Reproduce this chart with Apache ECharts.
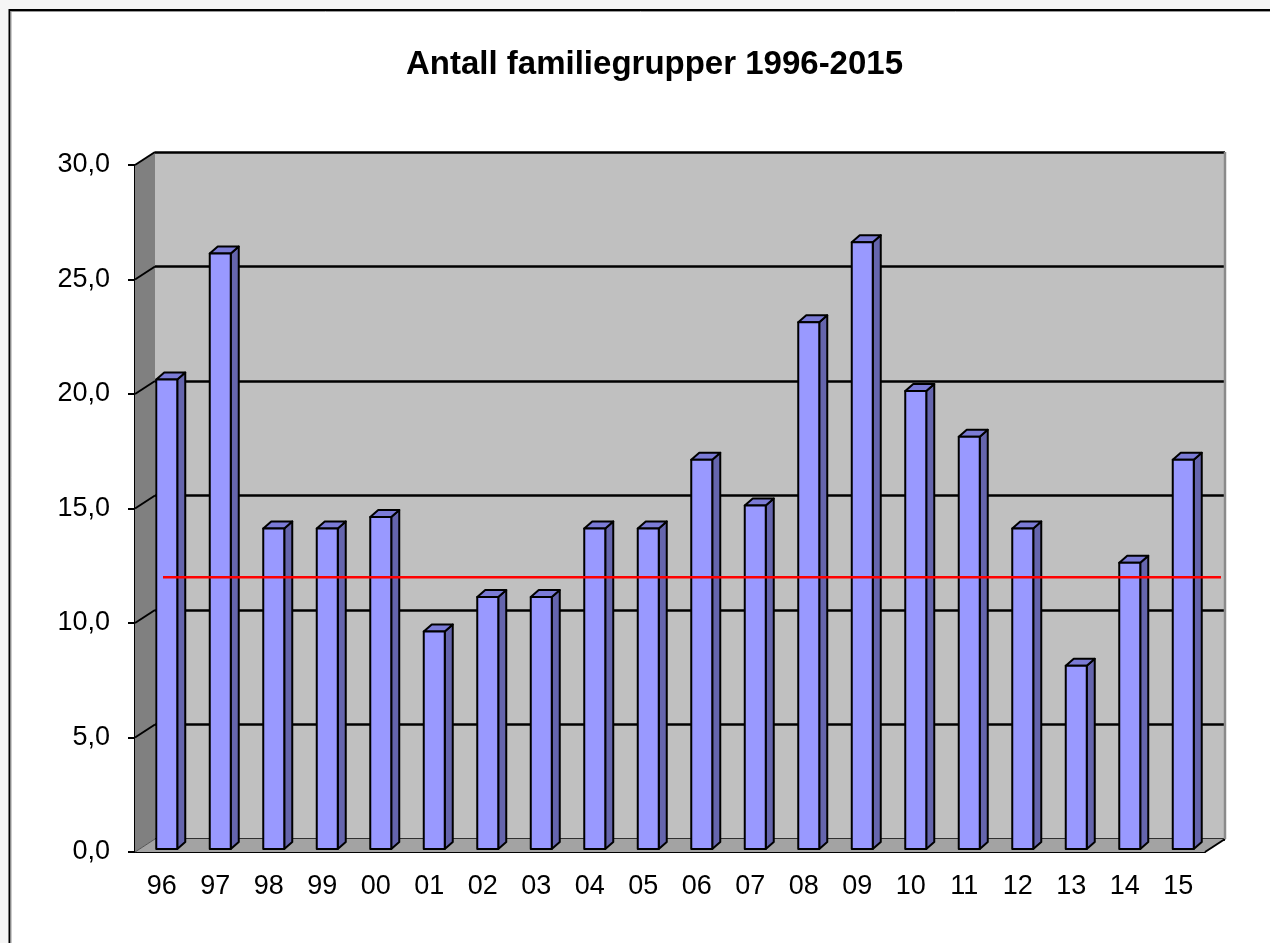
<!DOCTYPE html>
<html>
<head>
<meta charset="utf-8">
<script src="https://cdn.jsdelivr.net/npm/echarts@6/dist/echarts.min.js"></script>
<style>
  html, body { margin: 0; padding: 0; background: #f5f5f5; }
  #chart { width: 1270px; height: 943px; }
</style>
</head>
<body>
<div id="chart"></div>
<script>
// data
const categories = ['96', '97', '98', '99', '00', '01', '02', '03', '04', '05',
  '06', '07', '08', '09', '10', '11', '12', '13', '14', '15'];
const antall = [20.5, 26, 14, 14, 14.5, 9.5, 11, 11, 14, 14,
  17, 15, 23, 26.5, 20, 18, 14, 8, 12.5, 17];
const snitt = [12, 12, 12, 12, 12, 12, 12, 12, 12, 12,
  12, 12, 12, 12, 12, 12, 12, 12, 12, 12];
const yTicks = [0, 5, 10, 15, 20, 25, 30];

const DX = 20, DY = 13; // depth of the 3d box

const chart = echarts.init(document.getElementById('chart'), null, { renderer: 'canvas' });

function fmt(v) {
  return v.toFixed(1).replace('.', ',');
}

// side wall, floor and their edges
function renderWalls(params, api) {
  const cs = params.coordSys;
  const x0 = cs.x, y0 = cs.y, right = cs.x + cs.width, bottom = cs.y + cs.height;
  const children = [
    {
      type: 'polygon',
      shape: { points: [[x0, y0], [x0 + DX, y0 - DY], [x0 + DX, bottom - DY], [x0, bottom]] },
      style: { fill: '#808080' }
    },
    {
      type: 'polygon',
      shape: { points: [[x0, bottom], [x0 + DX, bottom - DY], [right + DX, bottom - DY], [right, bottom]] },
      style: { fill: '#a3a3a3' }
    }
  ];
  yTicks.forEach(function (t) {
    const p = api.coord([0, t]);
    children.push({
      type: 'line',
      shape: { x1: x0, y1: p[1], x2: x0 + DX, y2: p[1] - DY },
      style: { stroke: t === 0 ? '#555' : '#000', lineWidth: t === 0 ? 1 : 2 }
    });
  });
  children.push({
    type: 'line',
    shape: { x1: right, y1: bottom, x2: right + DX, y2: bottom - DY },
    style: { stroke: '#000', lineWidth: 2 }
  });
  children.push({
    type: 'line',
    shape: { x1: right + DX, y1: y0 - DY, x2: right + DX, y2: bottom - DY },
    style: { stroke: '#8a8a8a', lineWidth: 2.5 }
  });
  return { type: 'group', children: children };
}

function renderBar(params, api) {
  const i = api.value(0), v = api.value(1);
  const base = api.coord([i, 0]);
  const top = api.coord([i, v]);
  const cx = base[0] + 5, yb = base[1] - 3, yt = top[1] - 3;
  const hw = 10.5, dx = 8, dy = 7;
  const line = { stroke: '#000', lineWidth: 2, lineJoin: 'round' };
  return {
    type: 'group',
    children: [
      {
        type: 'polygon',
        shape: { points: [[cx + hw, yt], [cx + hw + dx, yt - dy], [cx + hw + dx, yb - dy], [cx + hw, yb]] },
        style: Object.assign({ fill: '#6565ad' }, line)
      },
      {
        type: 'polygon',
        shape: { points: [[cx - hw, yt], [cx - hw + dx, yt - dy], [cx + hw + dx, yt - dy], [cx + hw, yt]] },
        style: Object.assign({ fill: '#7b7bd6' }, line)
      },
      {
        type: 'rect',
        shape: { x: cx - hw, y: yt, width: hw * 2, height: yb - yt },
        style: Object.assign({ fill: '#9999ff' }, line)
      }
    ]
  };
}

const option = {
  backgroundColor: '#f5f5f5',
  animation: false,
  title: {
    text: 'Antall familiegrupper 1996-2015',
    left: 401,
    top: 43,
    textStyle: { fontFamily: 'Liberation Sans', fontSize: 33, fontWeight: 'bold', color: '#000' }
  },
  graphic: [
    { type: 'rect', z: -10, shape: { x: 9, y: 10, width: 1270, height: 943 }, style: { fill: '#fff' } },
    { type: 'polyline', z: 100, shape: { points: [[9.5, 943], [9.5, 10], [1270, 10]] },
      style: { stroke: '#000', lineWidth: 2, fill: null } },
    { type: 'polyline', z: 100, shape: { points: [[11, 943], [11, 11.5], [1270, 11.5]] },
      style: { stroke: '#999', lineWidth: 1, fill: null } }
  ],
  grid: [
    // back wall
    { left: 135 + DX, right: 65 - DX, top: 165 - DY, bottom: 91 + DY,
      show: true, backgroundColor: '#c0c0c0', borderWidth: 0 },
    // front plane
    { left: 135, right: 65, top: 165, bottom: 91 },
    // average line
    { left: 163, right: 49, top: 165, bottom: 91 }
  ],
  xAxis: [
    { gridIndex: 0, type: 'category', data: categories, show: false },
    {
      gridIndex: 1, type: 'category', data: categories,
      axisLine: { lineStyle: { color: '#000', width: 2 } },
      axisTick: { length: 8, lineStyle: { color: '#000', width: 2 } },
      axisLabel: { color: '#000', fontFamily: 'Liberation Sans', fontSize: 27, margin: 21 }
    },
    { gridIndex: 2, type: 'category', data: categories, boundaryGap: false, show: false }
  ],
  yAxis: [
    {
      gridIndex: 0, type: 'value', min: 0, max: 30, interval: 5,
      axisLine: { show: false }, axisTick: { show: false }, axisLabel: { show: false },
      splitLine: { lineStyle: { color: '#000', width: 2.5 } }
    },
    {
      gridIndex: 1, type: 'value', min: 0, max: 30, interval: 5,
      axisLine: { show: true, lineStyle: { color: '#000', width: 2 } },
      axisTick: { show: true, length: 7, lineStyle: { color: '#000', width: 2 } },
      axisLabel: { color: '#000', fontFamily: 'Liberation Sans', fontSize: 27, margin: 25, formatter: fmt },
      splitLine: { show: false }
    },
    { gridIndex: 2, type: 'value', min: 0, max: 30, show: false, splitLine: { show: false } }
  ],
  series: [
    {
      type: 'custom',
      xAxisIndex: 1, yAxisIndex: 1,
      renderItem: renderWalls,
      data: [[0, 0]],
      z: 1,
      silent: true
    },
    {
      name: 'Antall',
      type: 'custom',
      xAxisIndex: 1, yAxisIndex: 1,
      renderItem: renderBar,
      data: antall.map(function (v, i) { return [i, v]; }),
      z: 3
    },
    {
      name: 'Snitt',
      type: 'line',
      xAxisIndex: 2, yAxisIndex: 2,
      data: snitt,
      symbol: 'none',
      lineStyle: { color: '#ff0000', width: 2.5 },
      z: 5
    }
  ]
};

chart.setOption(option);
</script>
</body>
</html>
